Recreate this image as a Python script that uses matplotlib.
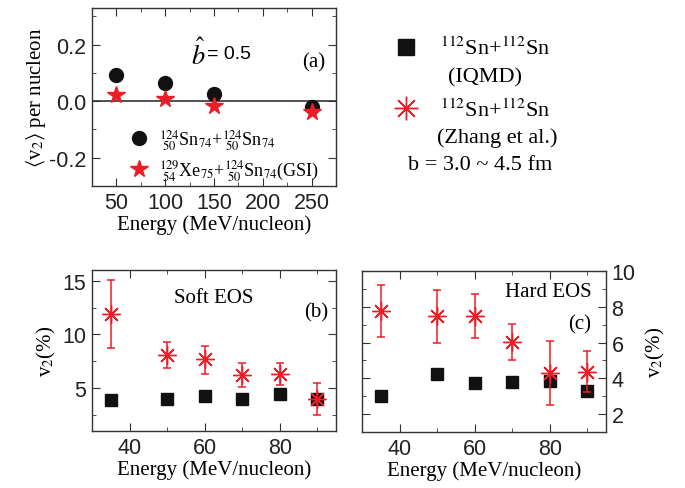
import numpy as np
import matplotlib
matplotlib.use('Agg')
from matplotlib import pyplot as plt
from matplotlib.ticker import MultipleLocator
from matplotlib.lines import Line2D

plt.rcParams['font.family'] = 'Liberation Sans'
plt.rcParams['mathtext.fontset'] = 'stix'
plt.rcParams['axes.linewidth'] = 1.0
plt.rcParams['axes.edgecolor'] = '#333333'

################################################################################
#  Dados
################################################################################
# (a) <v2> per nucleon
E_a = [50, 100, 150, 250]
v2_sn = [0.093, 0.065, 0.027, -0.020]
v2_gsi = [0.021, 0.008, -0.018, -0.039]

# (b), (c) v2(%)
E_bc = [35, 50, 60, 70, 80, 90]
iqmd_soft = [3.9, 4.0, 4.3, 4.0, 4.45, 4.0]
zhang_soft = [11.9, 8.1, 7.7, 6.2, 6.3, 4.0]
zhang_soft_lo = [8.7, 6.9, 6.3, 5.1, 5.3, 2.5]
zhang_soft_hi = [15.1, 9.3, 8.9, 7.3, 7.3, 5.5]

iqmd_hard = [3.03, 4.25, 3.75, 3.82, 3.86, 3.30]
zhang_hard = [7.79, 7.47, 7.47, 6.03, 4.29, 4.38]
zhang_hard_lo = [6.33, 5.96, 6.24, 5.02, 2.52, 3.22]
zhang_hard_hi = [9.2, 8.95, 8.73, 7.04, 6.09, 5.52]

W, H = 685, 489
fig = plt.figure(figsize=(W/100, H/100), dpi=100)
SERIF = 'Liberation Serif'

def px(l, t, r, b):
    return [l/W, 1 - b/H, (r - l)/W, (b - t)/H]

def estilo(ax):
    ax.tick_params(which='both', direction='in', top=True, right=True,
                   labelsize=15.5, colors='#333333', labelcolor='#222222')
    ax.tick_params(which='major', length=5.5, pad=4)
    ax.tick_params(which='minor', length=3)

asterisco = (8, 2, 0)
red = '#ee1c25'

################################################################################
#  (a)
################################################################################
ax1 = fig.add_axes(px(92, 9, 336, 187))
ax1.axhline(0, color='#333333', lw=1.2, zorder=1)
h1, = ax1.plot(E_a, v2_sn, 'o', color='#111111', ms=10, zorder=3)
h2, = ax1.plot(E_a, v2_gsi, '*', color=red, ms=13, zorder=4)
ax1.set_xlim(25, 275)
ax1.set_ylim(-0.3, 0.33)
ax1.xaxis.set_major_locator(MultipleLocator(50))
ax1.xaxis.set_minor_locator(MultipleLocator(25))
ax1.yaxis.set_major_locator(MultipleLocator(0.2))
ax1.yaxis.set_minor_locator(MultipleLocator(0.1))
ax1.yaxis.set_major_formatter(lambda v, p: '%.1f' % v)
estilo(ax1)
ax1.set_xlabel('Energy (MeV/nucleon)', fontsize=15, family=SERIF, labelpad=1)
ax1.set_ylabel(r'$\langle$v$_2\rangle$ per nucleon', fontsize=15, family=SERIF, labelpad=1)
ax1.text(0.405, 0.745, r'$\hat{b}$', fontsize=19, transform=ax1.transAxes, ha='left', va='center')
ax1.text(0.47, 0.745, '= 0.5', fontsize=14, transform=ax1.transAxes, ha='left', va='center')
ax1.text(0.955, 0.70, '(a)', fontsize=15, family=SERIF, transform=ax1.transAxes, ha='right', va='center')
leg = ax1.legend([h1, h2],
                 [r'${}^{124}_{\ 50}$Sn$_{74}$+${}^{124}_{\ 50}$Sn$_{74}$',
                  r'${}^{129}_{\ 54}$Xe$_{75}$+${}^{124}_{\ 50}$Sn$_{74}$(GSI)'],
                 loc='center left', bbox_to_anchor=(0.148, 0.175), frameon=False,
                 prop={'family': SERIF, 'size': 13}, handlelength=1.2, handletextpad=0.5,
                 labelspacing=0.3, borderpad=0, borderaxespad=0)

################################################################################
#  (b)
################################################################################
ax2 = fig.add_axes(px(92, 271, 336, 432))
err = [np.array(zhang_soft) - np.array(zhang_soft_lo), np.array(zhang_soft_hi) - np.array(zhang_soft)]
ax2.plot(E_bc, iqmd_soft, 's', color='#111111', ms=9, zorder=2)
ax2.errorbar(E_bc, zhang_soft, yerr=err, fmt='none', ecolor=red, elinewidth=1.1, capsize=3, capthick=1.1, zorder=3)
ax2.plot(E_bc, zhang_soft, marker=asterisco, ls='none', color=red, ms=13, mew=1.0, zorder=4)
ax2.set_xlim(30, 95)
ax2.set_ylim(1, 16)
ax2.xaxis.set_major_locator(MultipleLocator(20))
ax2.xaxis.set_minor_locator(MultipleLocator(10))
ax2.yaxis.set_major_locator(MultipleLocator(5))
ax2.yaxis.set_minor_locator(MultipleLocator(2.5))
estilo(ax2)
ax2.set_xlabel('Energy (MeV/nucleon)', fontsize=15, family=SERIF, labelpad=1)
ax2.set_ylabel(r'v$_2$(%)', fontsize=15, family=SERIF, labelpad=3)
ax2.text(0.5, 0.83, 'Soft EOS', fontsize=15, family=SERIF, transform=ax2.transAxes, ha='center', va='center')
ax2.text(0.97, 0.74, '(b)', fontsize=15, family=SERIF, transform=ax2.transAxes, ha='right', va='center')

################################################################################
#  (c)
################################################################################
ax3 = fig.add_axes(px(362, 272, 606, 433))
err = [np.array(zhang_hard) - np.array(zhang_hard_lo), np.array(zhang_hard_hi) - np.array(zhang_hard)]
ax3.plot(E_bc, iqmd_hard, 's', color='#111111', ms=9, zorder=2)
ax3.errorbar(E_bc, zhang_hard, yerr=err, fmt='none', ecolor=red, elinewidth=1.1, capsize=3, capthick=1.1, zorder=3)
ax3.plot(E_bc, zhang_hard, marker=asterisco, ls='none', color=red, ms=13, mew=1.0, zorder=4)
ax3.set_xlim(30, 95)
ax3.set_ylim(1, 10)
ax3.xaxis.set_major_locator(MultipleLocator(20))
ax3.xaxis.set_minor_locator(MultipleLocator(10))
ax3.yaxis.set_major_locator(MultipleLocator(2))
ax3.yaxis.set_minor_locator(MultipleLocator(1))
estilo(ax3)
ax3.tick_params(labelleft=False, labelright=True)
ax3.yaxis.set_label_position('right')
ax3.set_xlabel('Energy (MeV/nucleon)', fontsize=15, family=SERIF, labelpad=1)
ax3.set_ylabel(r'v$_2$(%)', fontsize=15, family=SERIF, labelpad=6, rotation=90)
ax3.text(0.94, 0.87, 'Hard EOS', fontsize=15, family=SERIF, transform=ax3.transAxes, ha='right', va='center')
ax3.text(0.94, 0.67, '(c)', fontsize=15, family=SERIF, transform=ax3.transAxes, ha='right', va='center')

################################################################################
#  Legenda da direita
################################################################################
hq = Line2D([], [], marker='s', ls='none', color='#111111', ms=11)
hz = Line2D([], [], marker=asterisco, ls='none', color=red, ms=17, mew=1.0)
fig.legend([hq, hz], [r'${}^{112}$Sn+${}^{112}$Sn', r'${}^{112}$Sn+${}^{112}$Sn'],
           loc='upper left', bbox_to_anchor=(393/W, 1 - 38/H), frameon=False,
           prop={'family': SERIF, 'size': 16}, handlelength=1.2, handletextpad=0.9,
           labelspacing=1.75, borderpad=0, borderaxespad=0)
fig.text(485/W, 1 - 78/H, '(IQMD)', fontsize=16, family=SERIF, ha='center', va='center')
fig.text(497/W, 1 - 138/H, '(Zhang et al.)', fontsize=16, family=SERIF, ha='center', va='center')
fig.text(480/W, 1 - 165/H, 'b = 3.0 ~ 4.5 fm', fontsize=16, family=SERIF, ha='center', va='center')

fig.savefig('out.png', dpi=100)
